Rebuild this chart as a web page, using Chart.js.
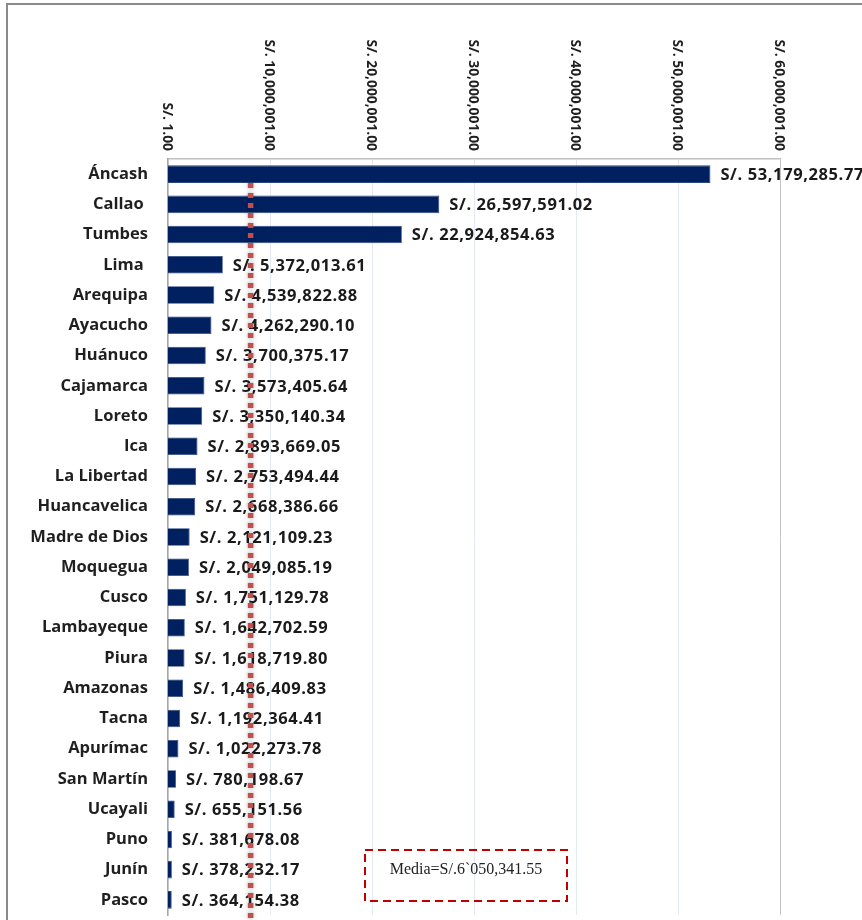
<!DOCTYPE html>
<html>
<head>
<meta charset="utf-8">
<script src="https://cdn.jsdelivr.net/npm/chart.js@4.4.1/dist/chart.umd.min.js"></script>
<style>
html,body{margin:0;padding:0;background:#fff;}
#wrap{position:relative;width:862px;height:920px;overflow:hidden;}
#frame{position:absolute;left:6px;top:3px;width:900px;height:1000px;border-top:2px solid #8a8a8a;border-left:2px solid #8a8a8a;pointer-events:none;}
canvas{position:absolute;left:0;top:0;}
</style>
</head>
<body>
<div id="wrap"><canvas id="c" width="862" height="920"></canvas><div id="frame"></div></div>
<script>
const categories = ['Áncash','Callao ','Tumbes','Lima ','Arequipa','Ayacucho','Huánuco','Cajamarca','Loreto','Ica','La Libertad','Huancavelica','Madre de Dios','Moquegua','Cusco','Lambayeque','Piura','Amazonas','Tacna','Apurímac','San Martín','Ucayali','Puno','Junín','Pasco'];
const amounts = [53179285.77,26597591.02,22924854.63,5372013.61,4539822.88,4262290.10,3700375.17,3573405.64,3350140.34,2893669.05,2753494.44,2668386.66,2121109.23,2049085.19,1751129.78,1642702.59,1618719.80,1486409.83,1192364.41,1022273.78,780198.67,655151.56,381678.08,378232.17,364154.38];
const tickValues = [1,10000001,20000001,30000001,40000001,50000001,60000001];
const tickLabels = ['S/. 1.00','S/. 10,000,001.00','S/. 20,000,001.00','S/. 30,000,001.00','S/. 40,000,001.00','S/. 50,000,001.00','S/. 60,000,001.00'];
const meanLineValue = 8100000; // where the dashed reference line is drawn in the picture
const meanText = 'Media=S/.6`050,341.55';

function fmt(v){ return 'S/. ' + v.toLocaleString('en-US',{minimumFractionDigits:2,maximumFractionDigits:2}); }

const valueLabels = {
  id:'valueLabels',
  afterDatasetsDraw(chart){
    const ctx = chart.ctx; const meta = chart.getDatasetMeta(0);
    ctx.save();
    ctx.font = 'bold 16.5px "Open Sans"';
    ctx.fillStyle = '#1a1a1a'; ctx.textBaseline = 'middle'; ctx.textAlign = 'left';
    ctx.letterSpacing = '0.6px';
    meta.data.forEach((bar,i)=>{ ctx.fillText(fmt(amounts[i]), bar.x + 10, bar.y + 1); });
    ctx.restore();
  }
};

const topTicks = {
  id:'topTicks',
  afterDraw(chart){
    const ctx = chart.ctx; const x = chart.scales.x;
    ctx.save();
    ctx.font = 'bold 13.8px "Open Sans"'; ctx.fillStyle = '#1f1f1f';
    tickValues.forEach((v,i)=>{
      const px = x.getPixelForValue(v);
      ctx.save(); ctx.translate(px - 1, chart.chartArea.top - 8); ctx.rotate(Math.PI/2);
      ctx.textAlign = 'right'; ctx.textBaseline = 'middle';
      ctx.fillText(tickLabels[i], 0, 0); ctx.restore();
    });
    ctx.restore();
  }
};

const meanLine = {
  id:'meanLine',
  afterDraw(chart){
    const ctx = chart.ctx; const x = chart.scales.x; const b0 = chart.getDatasetMeta(0).data[0];
    const px = x.getPixelForValue(meanLineValue); const y0 = b0.y + b0.height/2;
    ctx.save();
    ctx.strokeStyle = '#c0504d'; ctx.lineWidth = 5.5; ctx.setLineDash([5,5]);
    ctx.shadowColor = 'rgba(0,0,0,0.35)'; ctx.shadowBlur = 4;
    ctx.beginPath(); ctx.moveTo(px, y0); ctx.lineTo(px, chart.height); ctx.stroke();
    ctx.restore();
    // annotation box
    ctx.save();
    ctx.strokeStyle = '#c00000'; ctx.lineWidth = 2; ctx.setLineDash([8,5]);
    ctx.strokeRect(365, 850, 202, 51);
    ctx.font = '16px "Liberation Serif"'; ctx.fillStyle = '#222'; ctx.textAlign = 'center'; ctx.textBaseline = 'middle';
    ctx.fillText(meanText, 466, 870);
    ctx.restore();
  }
};

new Chart(document.getElementById('c'), {
  type:'bar',
  data:{labels:categories, datasets:[{data:amounts, backgroundColor:'#002060', borderColor:'#2a4583', borderWidth:0.8, barPercentage:0.58, categoryPercentage:1}]},
  options:{
    indexAxis:'y', responsive:false, animation:false, devicePixelRatio:1,
    layout:{padding:{left:0,right:82,top:0,bottom:5}},
    plugins:{legend:{display:false}, tooltip:{enabled:false}},
    scales:{
      x:{position:'top', type:'linear', min:1, max:60000001,
        afterBuildTicks: s => { s.ticks = tickValues.map(v=>({value:v})); },
        afterFit: s => { s.height = 159; },
        ticks:{display:false},
        grid:{color: c => c.index === tickValues.length-1 ? '#c4c4c4' : '#e4e8f0', lineWidth:1, drawTicks:false},
        border:{display:true, color:'#bfbfbf', width:1.5}
      },
      y:{afterFit: s => { s.width = 168; s.paddingTop = 0; s.paddingBottom = 0; },
        grid:{display:false, drawTicks:false},
        border:{display:true, color:'#a6a6a6', width:1.5},
        ticks:{padding:20, color:'#1f1f1f', autoSkip:false, font:{family:'Open Sans', weight:'bold', size:16.5}}
      }
    }
  },
  plugins:[valueLabels, topTicks, meanLine]
});
</script>
</body>
</html>
